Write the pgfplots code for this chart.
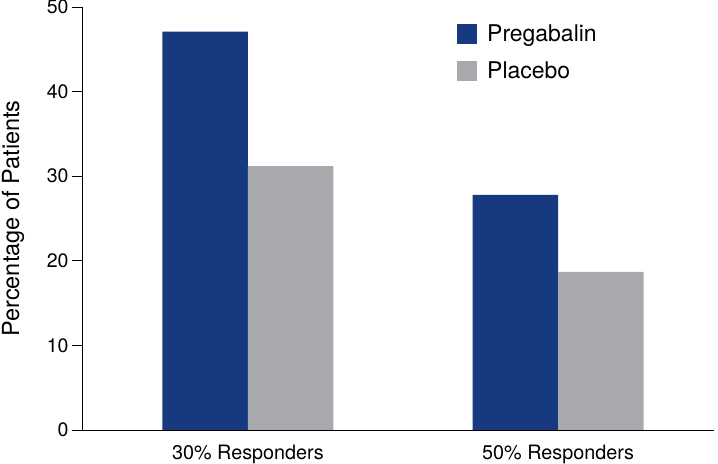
\documentclass[border=0pt]{standalone}
\usepackage{fontspec}
\setmainfont{TeX Gyre Heros}
\usepackage{pgfplots}
\pgfplotsset{compat=1.18}
\definecolor{pregblue}{RGB}{22,57,128}
\definecolor{placgray}{RGB}{167,169,172}
\begin{document}
\begin{tikzpicture}
\useasboundingbox (-82bp,-34bp) rectangle (636bp,430bp);
\begin{axis}[
  scale only axis,
  width=632bp, height=423bp,
  at={(0,0)}, anchor=south west,
  ybar=0pt, bar width=85.5bp,
  xmin=-0.535, xmax=1.503,
  ymin=0, ymax=50,
  ytick={0,10,20,30,40,50},
  xtick={0,1},
  xticklabels={30\% Responders, 50\% Responders},
  axis x line=bottom, axis y line=left,
  axis line style={-, line width=0.9bp, black},
  x axis line style={-},
  y axis line style={-},
  major x tick style={draw=none},
  major y tick style={line width=0.9bp, black},
  major tick length=10bp,
  tick align=outside,
  /pgf/number format/assume math mode=true,
  yticklabel style={font=\fontsize{19.5bp}{22bp}\selectfont, xshift=0bp},
  xticklabel style={font=\fontsize{19.8bp}{22bp}\selectfont, yshift=-2bp},
  ylabel={Percentage of Patients},
  every axis y label/.style={at={(-69bp,211.5bp)}, rotate=90, anchor=center,
    font=\fontsize{23.5bp}{26bp}\selectfont},
  legend style={draw=none, fill=none, at={(372bp,409bp)}, anchor=north west,
    font=\fontsize{23bp}{26bp}\selectfont, row sep=14bp, column sep=0bp},
  legend cell align=left,
  legend image code/.code={\fill[#1] (0bp,-10bp) rectangle (20bp,10bp);
    \path (28bp,0bp);},
]
\addplot[fill=pregblue, draw=none] coordinates {(0,47.1) (1,27.8)};
\addplot[fill=placgray, draw=none] coordinates {(0,31.2) (1,18.7)};
\legend{Pregabalin, Placebo}
\end{axis}
\end{tikzpicture}
\end{document}
